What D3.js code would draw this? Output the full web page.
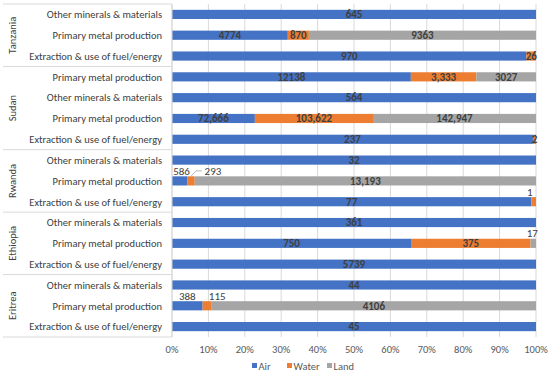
<!DOCTYPE html>
<html>
<head>
<meta charset="utf-8">
<script src="https://cdn.jsdelivr.net/npm/d3@7"></script>
<style>
  body { margin: 0; background: #fff; }
  text { font-family: Carlito, Calibri, "Liberation Sans Narrow", "DejaVu Sans Condensed", "Open Sans", sans-serif; }
</style>
</head>
<body>
<div id="chart"></div>
<script>
// data, top row first
const countries = ["Tanzania", "Sudan", "Rwanda", "Ethiopia", "Eritrea"];
const rowCountry = ["Tanzania", "Tanzania", "Tanzania",
  "Sudan", "Sudan", "Sudan", "Sudan",
  "Rwanda", "Rwanda", "Rwanda",
  "Ethiopia", "Ethiopia", "Ethiopia",
  "Eritrea", "Eritrea", "Eritrea"];
const rowCategory = ["Other minerals & materials", "Primary metal production", "Extraction & use of fuel/energy",
  "Primary metal production", "Other minerals & materials", "Primary metal production", "Extraction & use of fuel/energy",
  "Other minerals & materials", "Primary metal production", "Extraction & use of fuel/energy",
  "Other minerals & materials", "Primary metal production", "Extraction & use of fuel/energy",
  "Other minerals & materials", "Primary metal production", "Extraction & use of fuel/energy"];
const airValues = [645, 4774, 970, 12138, 564, 72666, 237, 32, 586, 77, 361, 750, 5739, 44, 388, 45];
const waterValues = [0, 870, 26, 3333, 0, 103622, 2, 0, 293, 1, 0, 375, 0, 0, 115, 0];
const landValues = [0, 9363, 0, 3027, 0, 142947, 0, 0, 13193, 0, 0, 17, 0, 0, 4106, 0];
const airLabels = ["645", "4774", "970", "12138", "564", "72,666", "237", "32", "586", "77", "361", "750", "5739", "44", "388", "45"];
const waterLabels = ["", "870", "26", "3,333", "", "103,622", "2", "", "293", "1", "", "375", "", "", "115", ""];
const landLabels = ["", "9363", "", "3027", "", "142,947", "", "", "13,193", "", "", "17", "", "", "4106", ""];
const seriesNames = ["Air", "Water", "Land"];
const tickValues = [0, 0.1, 0.2, 0.3, 0.4, 0.5, 0.6, 0.7, 0.8, 0.9, 1];

// labels Excel put above the bar (row index + series), with nudges
const aboveLabels = {
  "8-Air": { dx: 2 }, "8-Water": { dx: 22, leader: true }, "9-Water": { dx: -4 },
  "11-Land": { dx: -1 }, "14-Air": { dx: 0 }, "14-Water": { dx: 10 }
};

const width = 550, height = 374;
const colors = { Air: "#4472C4", Water: "#ED7D31", Land: "#A5A5A5" };
const textCol = "#404040";

const svg = d3.select("#chart").append("svg")
  .attr("width", width).attr("height", height);

const x = d3.scaleLinear().domain([0, 1]).range([172, 536]);
const rows = d3.range(rowCategory.length);
const y = d3.scaleBand().domain(rows).range([4, 337]).paddingInner(0.56).paddingOuter(0.28);
const band = y.step();

// gridlines
svg.append("g").selectAll("line").data(tickValues).join("line")
  .attr("x1", d => x(d)).attr("x2", d => x(d))
  .attr("y1", 4).attr("y2", 337)
  .attr("stroke", "#d9d9d9").attr("stroke-width", 1);

// build stacked data
const table = rows.map(i => ({ i, Air: airValues[i], Water: waterValues[i], Land: landValues[i] }));
const labelMap = { Air: airLabels, Water: waterLabels, Land: landLabels };
const stack = d3.stack().keys(seriesNames).offset(d3.stackOffsetExpand);
const series = stack(table);

const g = svg.append("g");
series.forEach(s => {
  g.append("g").selectAll("rect").data(s).join("rect")
    .attr("x", d => x(d[0]))
    .attr("width", d => x(d[1]) - x(d[0]))
    .attr("y", d => y(d.data.i))
    .attr("height", y.bandwidth())
    .attr("fill", colors[s.key]);
});

// data labels
series.forEach(s => {
  s.forEach(d => {
    const i = d.data.i;
    const lab = labelMap[s.key][i];
    if (!lab) return;
    const cx = (x(d[0]) + x(d[1])) / 2;
    const key = i + "-" + s.key;
    if (aboveLabels[key]) {
      const o = aboveLabels[key];
      const ty = y(i) - 1.5;
      svg.append("text").attr("x", cx + o.dx).attr("y", ty)
        .attr("text-anchor", "middle").attr("font-size", 11)
        .attr("fill", textCol).text(lab);
      if (o.leader) {
        svg.append("polyline")
          .attr("points", `${cx},${y(i)} ${cx + 5},${ty - 4} ${cx + 11},${ty - 4}`)
          .attr("fill", "none").attr("stroke", "#a6a6a6").attr("stroke-width", 0.8);
      }
    } else {
      svg.append("text").attr("x", cx).attr("y", y(i) + y.bandwidth() / 2 + 3.8)
        .attr("text-anchor", "middle").attr("font-size", 11).attr("font-weight", "bold")
        .attr("fill", textCol).text(lab);
    }
  });
});

// category axis
svg.append("line").attr("x1", 172).attr("x2", 172).attr("y1", 4).attr("y2", 337)
  .attr("stroke", "#d9d9d9");
svg.append("g").selectAll("text").data(rows).join("text")
  .attr("x", 162).attr("y", i => y(i) + y.bandwidth() / 2 + 3.8)
  .attr("text-anchor", "end").attr("font-size", 10.5).attr("fill", textCol)
  .text(i => rowCategory[i]);

// country groups
const groups = countries.map(c => {
  const idx = rows.filter(i => rowCountry[i] === c);
  return { c, first: d3.min(idx), last: d3.max(idx) };
});
const top0 = 4;
const rowTop = i => top0 + i * band;
const bounds = [0].concat(groups.map(gr => gr.last + 1));
svg.append("g").selectAll("line").data(bounds).join("line")
  .attr("x1", 3).attr("x2", 172)
  .attr("y1", d => rowTop(d)).attr("y2", d => rowTop(d))
  .attr("stroke", "#d9d9d9");
svg.append("g").selectAll("text").data(groups).join("text")
  .attr("transform", gr => `translate(16,${(rowTop(gr.first) + rowTop(gr.last + 1)) / 2}) rotate(-90)`)
  .attr("text-anchor", "middle").attr("font-size", 10.5).attr("fill", textCol)
  .text(gr => gr.c);

// value axis
svg.append("g").selectAll("text").data(tickValues).join("text")
  .attr("x", d => x(d)).attr("y", 353)
  .attr("text-anchor", "middle").attr("font-size", 10.5).attr("fill", "#595959")
  .text(d => d3.format(".0%")(d));

// legend
const lx = [252, 287, 327];
const leg = svg.append("g").selectAll("g").data(seriesNames).join("g")
  .attr("transform", (d, k) => `translate(${lx[k]},366)`);
leg.append("rect").attr("x", 0).attr("y", -3).attr("width", 5).attr("height", 5)
  .attr("fill", d => colors[d]);
leg.append("text").attr("x", 6.5).attr("y", 3.5).attr("font-size", 10.5).attr("fill", "#595959")
  .text(d => d);
</script>
</body>
</html>
